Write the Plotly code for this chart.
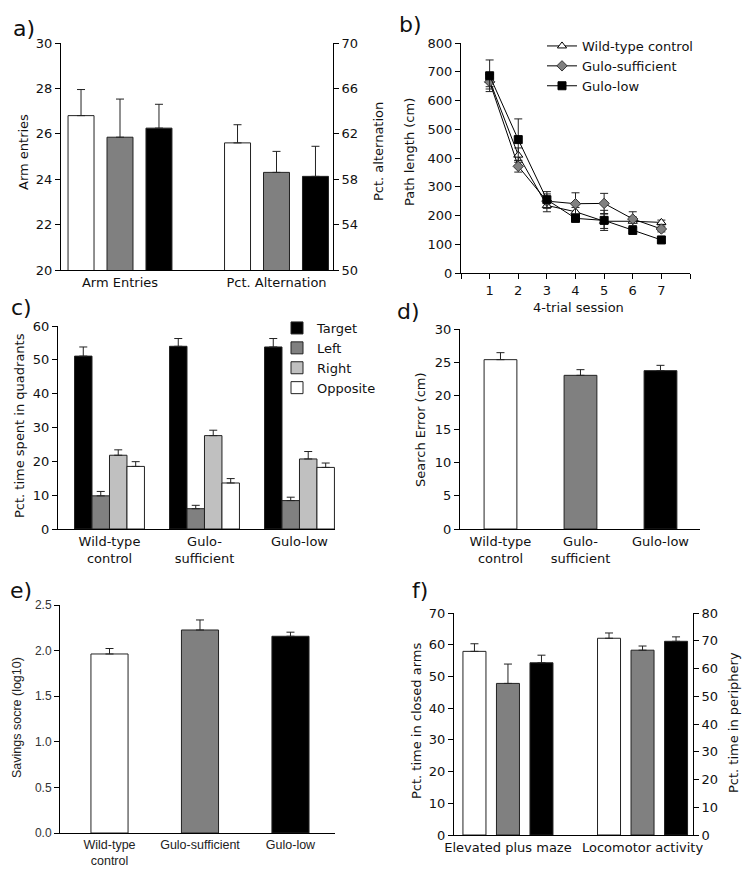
import plotly.graph_objects as go

W, H = 750, 882

# ---- data ----
groups = ["Wild-type control", "Gulo-sufficient", "Gulo-low"]

# a) Y-maze
a_cats = ["Arm Entries", "Pct. Alternation"]
arm_mean = [26.8, 25.85, 26.25]
arm_se = [1.15, 1.68, 1.05]
alt_mean = [61.2, 58.6, 58.25]
alt_se = [1.6, 1.85, 2.65]

# b) path length per session
sessions = [1, 2, 3, 4, 5, 6, 7]
path_wt = [670, 410, 235, 213, 180, 180, 176]
path_wt_se = [22, 25, 22, 15, 25, 15, 8]
path_suff = [665, 371, 250, 241, 242, 188, 153]
path_suff_se = [25, 20, 25, 38, 35, 25, 10]
path_low = [686, 464, 255, 190, 183, 148, 115]
path_low_se = [55, 72, 28, 12, 35, 10, 10]

# c) probe trial quadrants
c_cats = ["Wild-type<br>control", "Gulo-<br>sufficient", "Gulo-low"]
quadrants = ["Target", "Left", "Right", "Opposite"]
quad_mean = {
    "Target": [51.1, 54.0, 53.8],
    "Left": [9.8, 6.0, 8.4],
    "Right": [21.8, 27.6, 20.7],
    "Opposite": [18.5, 13.6, 18.2],
}
quad_se = {
    "Target": [2.7, 2.3, 2.5],
    "Left": [1.3, 1.0, 1.0],
    "Right": [1.6, 1.6, 2.2],
    "Opposite": [1.4, 1.3, 1.3],
}

# d) search error
search_err = [25.4, 23.05, 23.75]
search_err_se = [1.05, 0.85, 0.8]

# e) savings score
e_cats = ["Wild-type<br>control", "Gulo-sufficient", "Gulo-low"]
savings = [1.963, 2.226, 2.157]
savings_se = [0.06, 0.11, 0.045]

# f) anxiety
f_cats = ["Elevated plus maze", "Locomotor activity"]
epm_mean = [57.9, 47.8, 54.3]
epm_se = [2.4, 6.1, 2.4]
loco_mean = [70.9, 66.6, 69.8]
loco_se = [1.9, 1.5, 1.6]

# ---- styling ----
group_fill = ["#ffffff", "#808080", "#000000"]
quad_fill = {"Target": "#000000", "Left": "#808080", "Right": "#c0c0c0", "Opposite": "#ffffff"}
FONT = "DejaVu Sans"
ARIAL = "Liberation Sans"
TXT = "#111111"


def dx(a, b):
    return [a / W, b / W]


def dy(top, bottom):
    return [1 - bottom / H, 1 - top / H]


def yax(dom, rng, dtick, anchor, font=FONT, size=13, color=TXT, **kw):
    d = dict(domain=dom, range=rng, dtick=dtick, tick0=rng[0], anchor=anchor,
             showgrid=False, zeroline=False, showline=True, linecolor="#000",
             linewidth=1, ticks="outside", ticklen=5, tickcolor="#000",
             automargin=False, tickfont=dict(family=font, size=size, color=color))
    d.update(kw)
    return d


def xax(dom, rng, anchor, cats=None, font=FONT, size=13, color=TXT, **kw):
    d = dict(domain=dom, range=rng, anchor=anchor, showgrid=False, zeroline=False,
             showline=True, linecolor="#000", linewidth=1, ticks="",
             automargin=False, tickfont=dict(family=font, size=size, color=color))
    if cats is not None:
        d.update(type="category", categoryorder="array", categoryarray=cats)
    d.update(kw)
    return d


def err(v):
    return dict(type="data", array=[v], arrayminus=[0], symmetric=False,
                color="#222", thickness=1, width=4)


fig = go.Figure()

# a) bars: three per group, each group on its own y scale
slot_a, bw_a = 0.249, 0.166
for i, g in enumerate(groups):
    off = (i - 1) * slot_a - bw_a / 2
    fig.add_trace(go.Bar(x=[a_cats[0]], y=[arm_mean[i]], error_y=err(arm_se[i]),
                         marker=dict(color=group_fill[i], line=dict(color="#222", width=1)),
                         width=bw_a, offset=off, xaxis="x", yaxis="y", showlegend=False))
    fig.add_trace(go.Bar(x=[a_cats[1]], y=[alt_mean[i]], error_y=err(alt_se[i]),
                         marker=dict(color=group_fill[i], line=dict(color="#222", width=1)),
                         width=bw_a, offset=off, xaxis="x", yaxis="y2", showlegend=False))

# b) lines
line_specs = [
    (groups[0], path_wt, path_wt_se, dict(symbol="triangle-up", color="#ffffff", size=8,
                                          line=dict(color="#000", width=1))),
    (groups[1], path_suff, path_suff_se, dict(symbol="diamond", color="#808080", size=8,
                                              line=dict(color="#333", width=1))),
    (groups[2], path_low, path_low_se, dict(symbol="square", color="#000000", size=8,
                                            line=dict(color="#000", width=1))),
]
for name, ys, se, mk in line_specs:
    fig.add_trace(go.Scatter(x=sessions, y=ys, name=name, mode="lines+markers",
                             line=dict(color="#000", width=1), marker=mk,
                             error_y=dict(type="data", array=se, color="#222", thickness=1, width=4),
                             xaxis="x2", yaxis="y3", legend="legend"))

# c) quadrant bars
slot_c = 0.184
for j, q in enumerate(quadrants):
    off = (j - 1.5) * slot_c - slot_c / 2
    fig.add_trace(go.Bar(x=c_cats, y=quad_mean[q], name=q,
                         error_y=dict(type="data", array=quad_se[q], arrayminus=[0] * 3,
                                      symmetric=False, color="#222", thickness=1, width=4),
                         marker=dict(color=quad_fill[q], line=dict(color="#222", width=1)),
                         width=slot_c, offset=off, xaxis="x3", yaxis="y4", legend="legend2"))

# d) search error
fig.add_trace(go.Bar(x=c_cats, y=search_err,
                     error_y=dict(type="data", array=search_err_se, arrayminus=[0] * 3,
                                  symmetric=False, color="#222", thickness=1, width=4),
                     marker=dict(color=group_fill, line=dict(color="#222", width=1)),
                     width=0.41, xaxis="x4", yaxis="y5", showlegend=False))

# e) savings score
fig.add_trace(go.Bar(x=e_cats, y=savings,
                     error_y=dict(type="data", array=savings_se, arrayminus=[0] * 3,
                                  symmetric=False, color="#222", thickness=1, width=4),
                     marker=dict(color=group_fill, line=dict(color="#222", width=1)),
                     width=0.41, xaxis="x5", yaxis="y6", showlegend=False))

# f) two measures on two scales
slot_f, bw_f = 0.249, 0.171
for i, g in enumerate(groups):
    off = (i - 1) * slot_f - bw_f / 2
    fig.add_trace(go.Bar(x=[f_cats[0]], y=[epm_mean[i]], error_y=err(epm_se[i]),
                         marker=dict(color=group_fill[i], line=dict(color="#222", width=1)),
                         width=bw_f, offset=off, xaxis="x6", yaxis="y7", showlegend=False))
    fig.add_trace(go.Bar(x=[f_cats[1]], y=[loco_mean[i]], error_y=err(loco_se[i]),
                         marker=dict(color=group_fill[i], line=dict(color="#222", width=1)),
                         width=bw_f, offset=off, xaxis="x6", yaxis="y8", showlegend=False))

fig.update_layout(
    template="none",
    width=W, height=H, margin=dict(l=0, r=0, t=0, b=0, pad=0), autosize=False,
    paper_bgcolor="white", plot_bgcolor="rgba(0,0,0,0)",
    barmode="overlay", font=dict(family=FONT, size=13, color=TXT),
    # a
    xaxis=xax(dx(61, 333), [-0.377, 1.361], "y", a_cats),
    yaxis=yax(dy(43, 270), [20, 30], 2, "x"),
    yaxis2=yax(dy(43, 270), [50, 70], 4, "x", overlaying="y", side="right"),
    # b
    xaxis2=xax(dx(461, 690), [0, 8], "y3", tickmode="array", tickvals=list(range(9)),
               ticktext=[""] + [str(s) for s in sessions] + [""], ticks="outside",
               ticklen=5, tickcolor="#000"),
    yaxis3=yax(dy(43, 273), [0, 800], 100, "x2"),
    # c
    xaxis3=xax(dx(58, 335), [-0.542, 2.374], "y4", c_cats),
    yaxis4=yax(dy(326, 529), [0, 60], 10, "x3"),
    # d
    xaxis4=xax(dx(460, 700), [-0.506, 2.494], "y5", c_cats),
    yaxis5=yax(dy(329, 529), [0, 30], 5, "x4"),
    # e
    xaxis5=xax(dx(60, 335), [-0.547, 2.492], "y6", e_cats, font=ARIAL, size=12.5, color="#222"),
    yaxis6=yax(dy(605, 833), [0, 2.5], 0.5, "x5", font=ARIAL, size=12, color="#333",
               tickformat=".1f"),
    # f
    xaxis6=xax(dx(454, 693), [-0.401, 1.375], "y7", f_cats),
    yaxis7=yax(dy(613, 835), [0, 70], 10, "x6"),
    yaxis8=yax(dy(613, 835), [0, 80], 10, "x6", overlaying="y7", side="right"),
    legend=dict(x=542 / W, y=1 - 31 / H, xanchor="left", yanchor="top",
                bgcolor="rgba(0,0,0,0)", font=dict(family=FONT, size=13, color=TXT),
                itemwidth=30, tracegroupgap=0),
    legend2=dict(x=277 / W, y=1 - 313 / H, xanchor="left", yanchor="top",
                 bgcolor="rgba(0,0,0,0)", font=dict(family=FONT, size=13, color=TXT),
                 itemwidth=30, tracegroupgap=0),
)

# panel letters and axis titles
labels = [("a)", 24, 29), ("b)", 410, 24), ("c)", 21, 307),
          ("d)", 408, 312), ("e)", 21, 590), ("f)", 420, 590)]
for t, x, y in labels:
    fig.add_annotation(text=t, x=x / W, y=1 - y / H, xref="paper", yref="paper",
                       xanchor="center", yanchor="middle", showarrow=False,
                       font=dict(family=FONT, size=22, color=TXT))

titles = [
    ("Arm entries", 23, 152, -90, FONT, 13),
    ("Pct. alternation", 378, 152, -90, FONT, 13),
    ("Path length (cm)", 409, 152, -90, FONT, 13),
    ("4-trial session", 578, 307, 0, FONT, 13),
    ("Pct. time spent in quadrants", 19, 426, -90, FONT, 13),
    ("Search Error (cm)", 421, 430, -90, FONT, 13),
    ("Savings socre (log10)", 17, 718, -90, ARIAL, 12.5),
    ("Pct. time in closed arms", 416, 721, -90, FONT, 13),
    ("Pct. time in periphery", 733, 723, -90, FONT, 13),
]
for t, x, y, ang, fam, sz in titles:
    fig.add_annotation(text=t, x=x / W, y=1 - y / H, xref="paper", yref="paper",
                       xanchor="center", yanchor="middle", showarrow=False, textangle=ang,
                       font=dict(family=fam, size=sz, color="#222" if fam == ARIAL else TXT))

# page body has a default 8px margin; drop it so the figure sits at the top-left corner
fig.write_html("out.html", config={"displayModeBar": False},
               post_script="document.body.style.margin='0';")
